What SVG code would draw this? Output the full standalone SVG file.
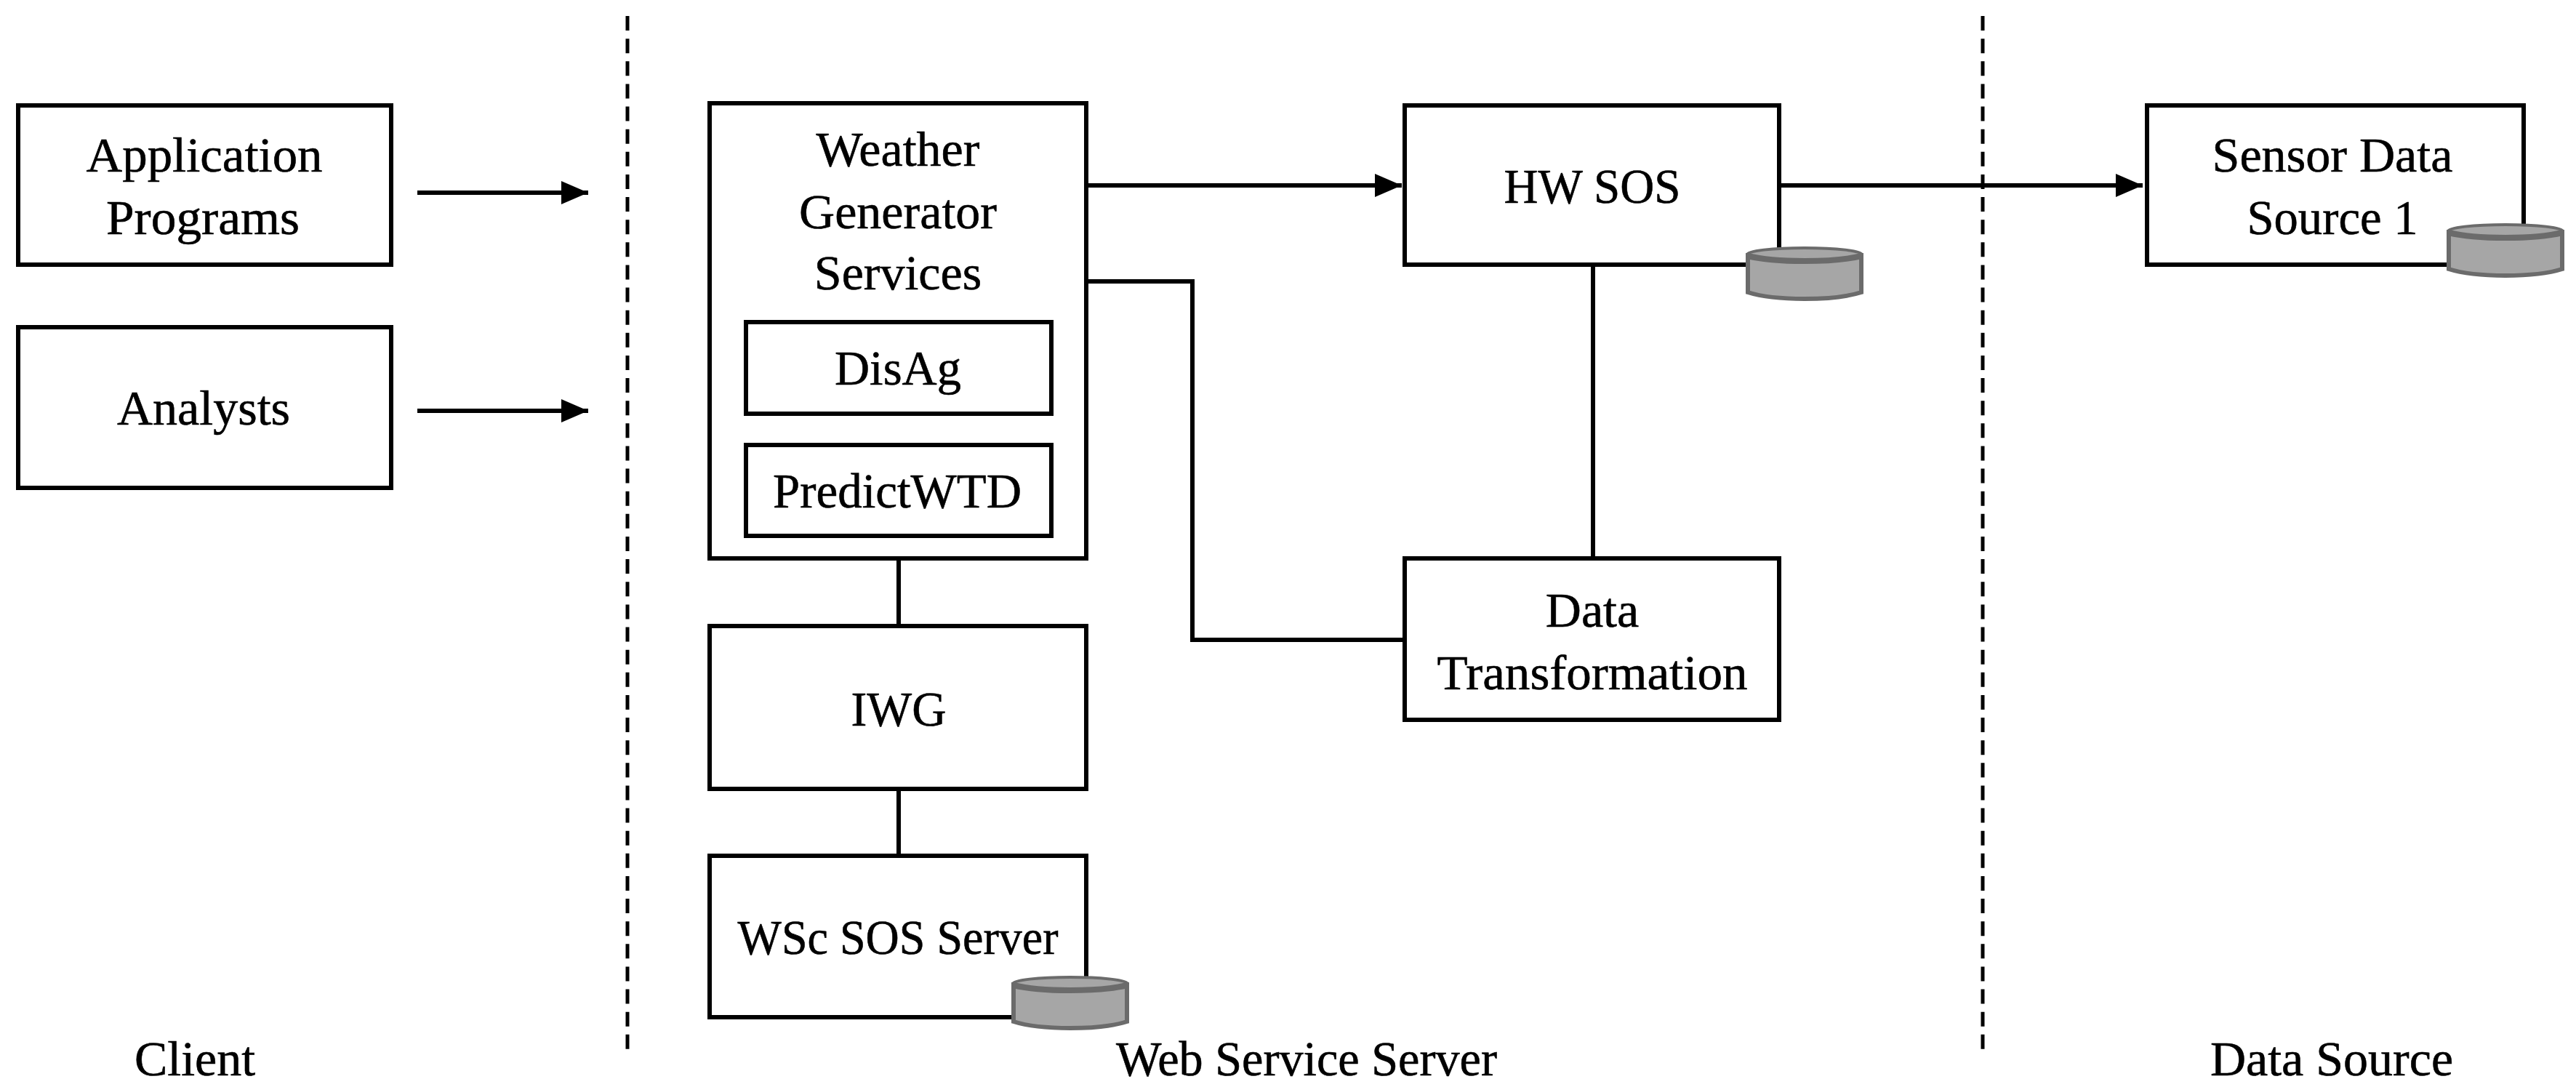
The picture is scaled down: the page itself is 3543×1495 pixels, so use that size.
<svg xmlns="http://www.w3.org/2000/svg" width="3543" height="1495" viewBox="0 0 3543 1495">
<style>
.b{fill:#fff;stroke:#000;stroke-width:6}
.c{fill:none;stroke:#000;stroke-width:6}
.d{fill:none;stroke:#000;stroke-width:5;stroke-dasharray:20 11.13}
.t{font-family:"Liberation Serif","Noto Serif",serif;font-size:68px;fill:#000;stroke:#000;stroke-width:.6;text-anchor:middle}
.cy{fill:#a6a6a6;stroke:#6b6b6b;stroke-width:6}
.cyt{fill:#a6a6a6;stroke:#6b6b6b;stroke-width:4}
.cyb{fill:none;stroke:#6b6b6b;stroke-width:8}
</style>
<defs>
<marker id="a" markerUnits="userSpaceOnUse" markerWidth="38" markerHeight="34" refX="37" refY="17" orient="auto"><path d="M0 1L37 17L0 33Z" fill="#000"/></marker>
<g id="db"><path class="cy" d="M2 12V63Q30 72 80 72T158 63V12Z"/><ellipse class="cyt" cx="80" cy="11" rx="79" ry="9"/><path class="cyb" d="M2 13Q30 20 80 20T158 13"/></g>
</defs>
<g id="connectors">
<path class="d" d="M863 22V1443"/>
<path class="d" d="M2727 22V1443"/>
<path class="c" marker-end="url(#a)" d="M574 265H809"/>
<path class="c" marker-end="url(#a)" d="M574 565H809"/>
<path class="c" marker-end="url(#a)" d="M1494 255H1928"/>
<path class="c" marker-end="url(#a)" d="M2447 255H2947"/>
<path class="c" d="M1494 387H1640V880H1932"/>
<path class="c" d="M2191 364V768"/>
<path class="c" d="M1236 768V861"/>
<path class="c" d="M1236 1085V1177"/>
</g>
<g id="app"><rect class="b" x="25" y="145" width="513" height="219"/><text class="t" x="281" y="236" textLength="325" lengthAdjust="spacingAndGlyphs">Application</text><text class="t" x="279" y="322" textLength="266" lengthAdjust="spacingAndGlyphs">Programs</text></g>
<g id="analysts"><rect class="b" x="25" y="450" width="513" height="221"/><text class="t" x="280" y="584" textLength="238" lengthAdjust="spacingAndGlyphs">Analysts</text></g>
<g id="wgs"><rect class="b" x="976" y="142" width="518" height="626"/><text class="t" x="1235" y="228">Weather</text><text class="t" x="1235" y="314">Generator</text><text class="t" x="1235" y="398">Services</text></g>
<g id="disag"><rect class="b" x="1026" y="443" width="420" height="126"/><text class="t" x="1235" y="529" textLength="174" lengthAdjust="spacingAndGlyphs">DisAg</text></g>
<g id="predict"><rect class="b" x="1026" y="612" width="420" height="125"/><text class="t" x="1234" y="698" textLength="342" lengthAdjust="spacingAndGlyphs">PredictWTD</text></g>
<g id="iwg"><rect class="b" x="976" y="861" width="518" height="224"/><text class="t" x="1236" y="998" textLength="131" lengthAdjust="spacingAndGlyphs">IWG</text></g>
<g id="wsc"><rect class="b" x="976" y="1177" width="518" height="222"/><text class="t" x="1235" y="1312" textLength="441" lengthAdjust="spacingAndGlyphs">WSc SOS Server</text><use href="#db" x="1392" y="1342"/></g>
<g id="hw"><rect class="b" x="1932" y="145" width="515" height="219"/><text class="t" x="2190" y="279" textLength="243" lengthAdjust="spacingAndGlyphs">HW SOS</text><use href="#db" x="2402" y="339"/></g>
<g id="dt"><rect class="b" x="1932" y="768" width="515" height="222"/><text class="t" x="2190" y="862">Data</text><text class="t" x="2190" y="948" textLength="427" lengthAdjust="spacingAndGlyphs">Transformation</text></g>
<g id="sensor"><rect class="b" x="2953" y="145" width="518" height="219"/><text class="t" x="3208" y="236" textLength="331" lengthAdjust="spacingAndGlyphs">Sensor Data</text><text class="t" x="3208" y="322" textLength="235" lengthAdjust="spacingAndGlyphs">Source 1</text><use href="#db" x="3366" y="307"/></g>
<text class="t" x="268" y="1479">Client</text>
<text class="t" x="1797" y="1479" textLength="524" lengthAdjust="spacingAndGlyphs">Web Service Server</text>
<text class="t" x="3207" y="1479">Data Source</text>
</svg>
